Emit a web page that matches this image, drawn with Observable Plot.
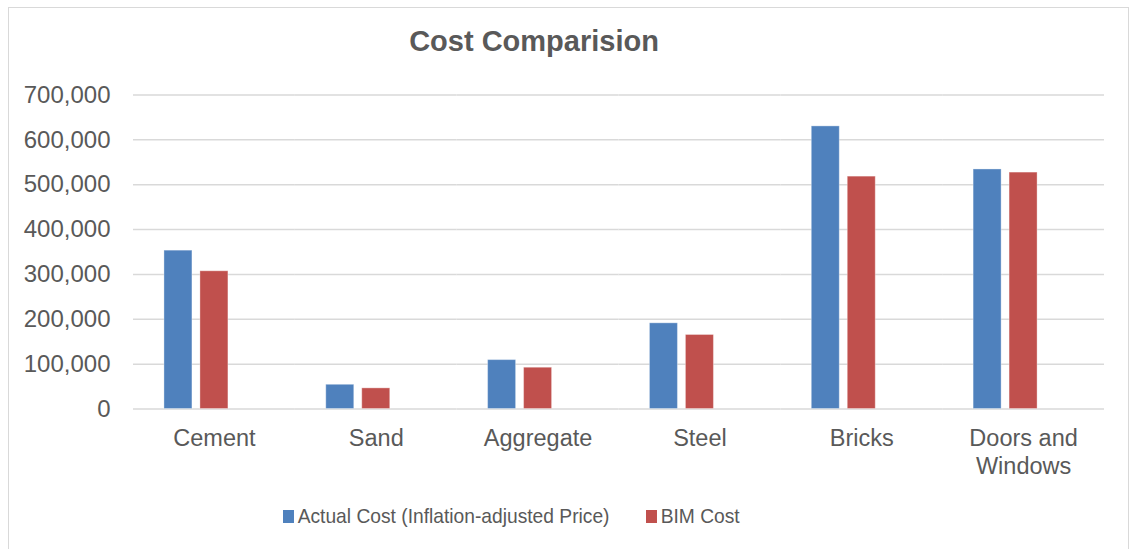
<!DOCTYPE html>
<html>
<head>
<meta charset="utf-8">
<script src="https://cdn.jsdelivr.net/npm/d3@7"></script>
<script src="https://cdn.jsdelivr.net/npm/@observablehq/plot@0.6"></script>
<style>
  html, body { margin: 0; padding: 0; background: #fff; }
  body { width: 1132px; height: 549px; overflow: hidden; position: relative; font-family: "Liberation Sans", Arial, sans-serif; color: #595959; }
  #frame { position: absolute; left: 8px; top: 7px; width: 1121px; height: 560px; border: 1.5px solid #d9d9d9; box-sizing: border-box; }
  #title { position: absolute; left: 0; top: 24px; width: 1068px; text-align: center; font-size: 29px; font-weight: bold; line-height: 34px; color: #595959; }
  #chart { position: absolute; left: 0; top: 70px; }
  .leg { position: absolute; top: 502px; display: flex; align-items: center; font-size: 21px; line-height: 28px; color: #595959; white-space: nowrap; transform-origin: 0 50%; transform: scaleX(0.915); }
  .sw { width: 12px; height: 13px; margin-right: 4px; }
</style>
</head>
<body>
<div id="frame"></div>
<div id="title">Cost Comparision</div>
<div id="chart"></div>
<div id="legend"></div>
<script>
const categories = ["Cement", "Sand", "Aggregate", "Steel", "Bricks", "Doors and Windows"];
const seriesNames = ["Actual Cost (Inflation-adjusted Price)", "BIM Cost"];
const actualCost = [353000, 54000, 109000, 191000, 630000, 534000];
const bimCost = [307000, 46000, 92000, 165000, 518000, 527000];
const yTicks = [0, 100000, 200000, 300000, 400000, 500000, 600000, 700000];
const colors = ["#4F81BD", "#C0504D"];

const rows = [];
categories.forEach((c, i) => {
  rows.push({category: c, series: seriesNames[0], value: actualCost[i]});
  rows.push({category: c, series: seriesNames[1], value: bimCost[i]});
});

const chart = Plot.plot({
  width: 1132,
  height: 420,
  marginLeft: 133,
  marginRight: 28,
  marginTop: 24.5,
  marginBottom: 81.5,
  style: {fontFamily: "'Liberation Sans', Arial, sans-serif", color: "#595959", background: "transparent"},
  fx: {domain: categories, paddingInner: 0, paddingOuter: 0, round: false, label: null},
  x: {domain: [...seriesNames, "_empty"], paddingInner: 0.222, paddingOuter: 0.86, round: false, axis: null},
  y: {domain: [0, 700000], label: null},
  color: {domain: seriesNames, range: colors},
  marks: [
    Plot.ruleY(yTicks, {y: d => d, stroke: "#d9d9d9", strokeWidth: 1.5, strokeOpacity: 1}),
    Plot.barY(rows, {fx: "category", x: "series", y: "value", fill: "series", stroke: "#ffffff", strokeOpacity: 0.35, strokeWidth: 1}),
    Plot.axisY(yTicks, {tickSize: 0, tickPadding: 23, tickFormat: d3.format(","), fontSize: 24, fill: "#595959", label: null}),
    Plot.axisFx({anchor: "bottom", tickSize: 0, tickPadding: 17, fontSize: 23.5, fill: "#595959", lineHeight: 1.2, label: null,
      tickFormat: d => d === "Doors and Windows" ? "Doors and\nWindows" : d})
  ]
});
document.getElementById("chart").appendChild(chart);

const legend = document.getElementById("legend");
const legLefts = [283, 646];
seriesNames.forEach((s, i) => {
  const item = document.createElement("div");
  item.className = "leg";
  item.style.left = legLefts[i] + "px";
  const sw = document.createElement("div");
  sw.className = "sw";
  sw.style.background = colors[i];
  const t = document.createElement("span");
  t.textContent = s;
  item.appendChild(sw);
  item.appendChild(t);
  legend.appendChild(item);
});
</script>
</body>
</html>
